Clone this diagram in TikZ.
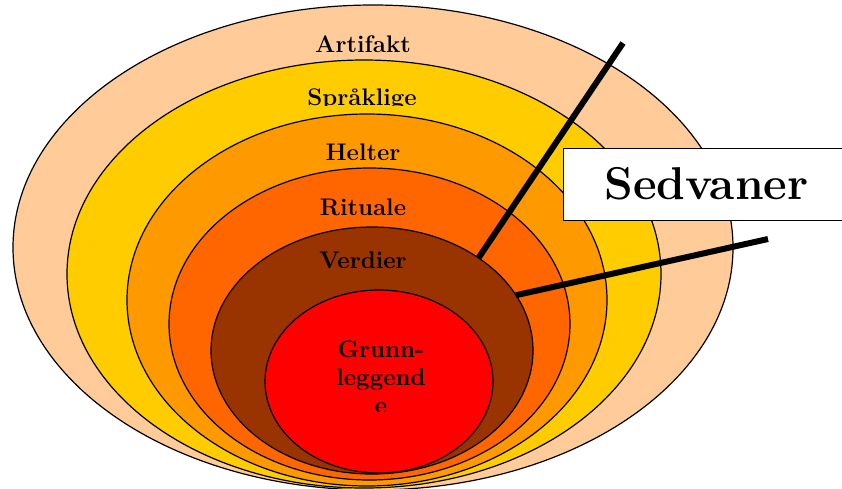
\documentclass[tikz,border=0pt]{standalone}
\usepackage{tikz}
\usetikzlibrary{shapes.geometric}
\definecolor{artpeach}{HTML}{FFCC99}
\definecolor{sprakyellow}{HTML}{FFCC00}
\definecolor{helterorange}{HTML}{FF9900}
\definecolor{ritualorange}{HTML}{FF6600}
\definecolor{verdibrown}{HTML}{993300}
\definecolor{grunnred}{HTML}{FF0000}

\begin{document}
\begin{tikzpicture}[
    x=1pt, y=-1pt,
    tier/.style={draw, ellipse, line width=1.2pt, inner sep=0pt, outer sep=0pt},
    lbl/.style={font=\fontsize{24}{28}\selectfont\bfseries, inner sep=0pt, anchor=base},
    pointer/.style={line width=6pt}
  ]

  \useasboundingbox (0,0) rectangle (842,488);

  \node[tier, fill=artpeach, minimum width=720pt, minimum height=485pt] (artifakt) at (373,247.5) {};
  \node[lbl] (artifakt-txt) at (363,52) {Artifakt};

  \node[tier, fill=sprakyellow, minimum width=594pt, minimum height=428pt] (spraklige) at (364,274) {};
  \begin{scope}
    \clip (280,70) rectangle (450,105);
    \node[lbl] (spraklige-txt) at (362,105.5) {Språklige};
  \end{scope}

  \node[tier, fill=helterorange, minimum width=480pt, minimum height=372pt] (helter) at (367,300) {};
  \node[lbl] (helter-txt) at (363,160) {Helter};

  \node[tier, fill=ritualorange, minimum width=401pt, minimum height=312pt] (rituale) at (369.5,324) {};
  \node[lbl] (rituale-txt) at (363,215) {Rituale};

  \node[tier, fill=verdibrown, minimum width=322pt, minimum height=247pt] (verdier) at (372,350.5) {};
  \node[lbl] (verdier-txt) at (363,268) {Verdier};

  \node[tier, fill=grunnred, minimum width=228pt, minimum height=183pt] (grunn) at (379,381.5) {};
  \begin{scope}
    \clip (300,320) rectangle (460,411);
    \node[lbl, anchor=north, align=center] (grunn-txt) at (381,341) {Grunn-\\leggend\\e};
  \end{scope}

  % pointer lines
  \coordinate (p1) at (623,43);
  \coordinate (p2) at (768,239);
  \draw[pointer] (verdier.41.2) -- (p1);
  \draw[pointer] (verdier.21.5) -- (p2);

  \node[draw, fill=white, line width=1pt, minimum width=287pt, minimum height=72pt,
        inner sep=0pt, font=\fontsize{46}{54}\selectfont\bfseries] (sedvaner) at (706.5,184) {Sedvaner};

\end{tikzpicture}
\end{document}
